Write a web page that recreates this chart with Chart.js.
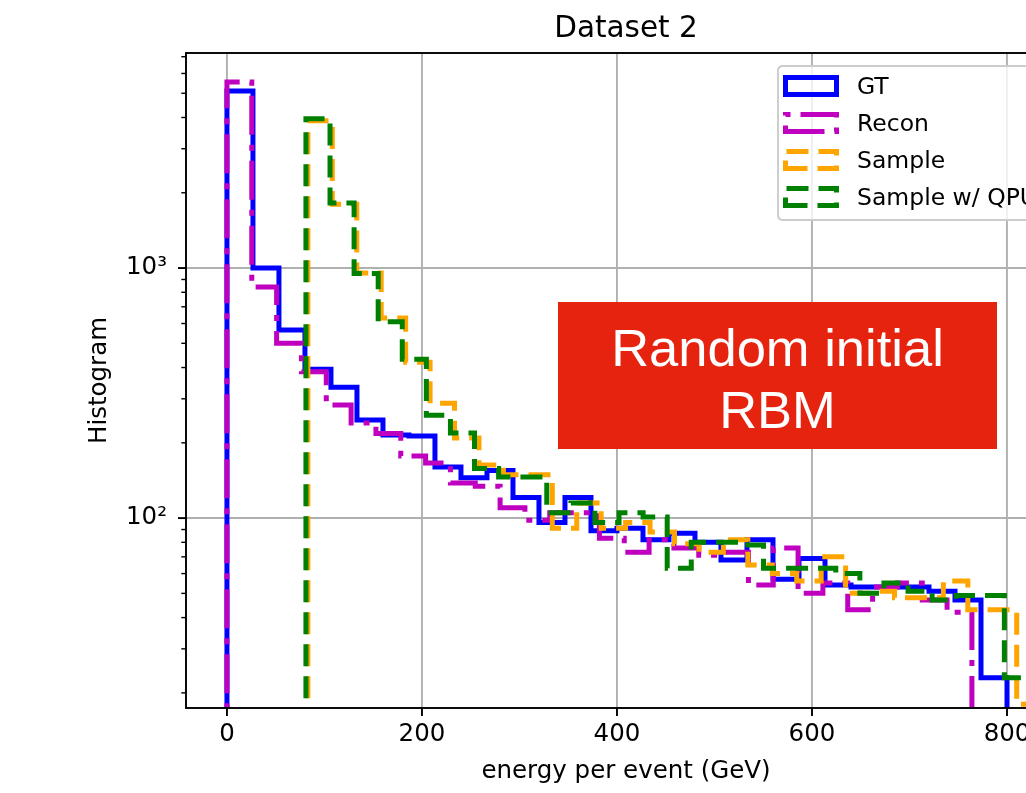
<!DOCTYPE html>
<html><head><meta charset="utf-8">
<script src="https://cdn.jsdelivr.net/npm/chart.js@4.4.1/dist/chart.umd.min.js"></script>
<style>
html,body{margin:0;padding:0;overflow:hidden;background:#fff;width:1026px;height:793px;}
#wrap{position:absolute;left:0;top:0;width:1100px;height:793px;}
#c{position:absolute;left:0;top:0;}
#note{position:absolute;left:558px;top:302px;width:439px;height:147px;background:#e6230f;color:#fff;
font-family:"Liberation Sans",Arial,Helvetica,sans-serif;font-size:52.5px;line-height:62px;text-align:center;box-sizing:border-box;padding-top:15px;}
</style></head><body>
<div id="wrap"><canvas id="c" width="1100" height="793"></canvas>
<div id="note">Random initial<br>RBM</div></div>
<script>
// ---- data (30 bins per histogram) ----
const seriesLabels = ['GT', 'Recon', 'Sample', 'Sample w/ QPU'];
const gtRange = [0, 800];
const gtCounts = [5100, 1000, 565, 394, 334, 247, 215, 213, 160, 145, 155, 121, 96, 121, 89, 91, 82, 87, 80, 68, 82, 57, 69, 54, 53, 53, 53, 51, 47, 23];
const reconRange = [0, 764];
const reconCounts = [5550, 840, 500, 385, 283, 240, 218, 177, 166, 138, 134, 110, 98, 105, 105, 83, 73, 82, 76, 71, 73, 54, 76, 50, 55, 43, 53, 55, 47, 42];
const sampleRange = [83, 835];
const sampleCounts = [3880, 1800, 955, 631, 420, 288, 209, 163, 149, 149, 91, 115, 91, 96, 88, 79, 73, 82, 65, 60, 56, 70, 50, 51, 48, 48, 56, 43, 43, 18];
const qpuRange = [81, 822];
const qpuCounts = [3950, 1820, 950, 610, 432, 258, 219, 158, 146, 146, 105, 115, 96, 105, 101, 63, 80, 80, 78, 63, 63, 63, 60, 50, 55, 51, 47, 49, 49, 23];
const xTickVals = [0, 200, 400, 600, 800];
const yTickVals = [20,30,40,50,60,70,80,90,100,200,300,400,500,600,700,800,900,1000,2000,3000,4000,5000,6000,7000];
const yMajor = {100: '10²', 1000: '10³'};

const FLOOR = 1;
function stepOutline(range, counts) {
  const lo = range[0], hi = range[1], w = (hi - lo) / counts.length;
  const pts = [{x: lo, y: FLOOR}];
  counts.forEach((c, i) => { pts.push({x: lo + i * w, y: c}); pts.push({x: lo + (i + 1) * w, y: c}); });
  pts.push({x: hi, y: FLOOR});
  return pts;
}

const styles = [
  {color: '#0000ff', dash: []},
  {color: '#bf00bf', dash: [39, 10, 6, 10]},
  {color: '#ffa500', dash: [22, 10]},
  {color: '#008000', dash: [22, 10]}
];
const ranges = [gtRange, reconRange, sampleRange, qpuRange];
const counts = [gtCounts, reconCounts, sampleCounts, qpuCounts];

const FONT = "'DejaVu Sans', sans-serif";
const FS = 24.5;
Chart.defaults.font.family = FONT;
Chart.defaults.color = '#000';

const datasets = seriesLabels.map((lab, i) => ({
  label: lab,
  data: stepOutline(ranges[i], counts[i]),
  borderColor: styles[i].color,
  borderDash: styles[i].dash,
  borderWidth: 5,
  pointRadius: 0,
  tension: 0,
  fill: false,
  clip: 0,
  order: 4 - i
}));

const framePlugin = {
  id: 'frame',
  afterDatasetsDraw(chart) {
    const ctx = chart.ctx, a = chart.chartArea;
    const xs = chart.scales.x, ys = chart.scales.y;
    ctx.save();
    ctx.strokeStyle = '#000';
    ctx.setLineDash([]);
    ctx.lineWidth = 1.9;
    xTickVals.forEach(v => {
      const px = xs.getPixelForValue(v);
      ctx.beginPath(); ctx.moveTo(px, a.bottom); ctx.lineTo(px, a.bottom + 8); ctx.stroke();
    });
    yTickVals.forEach(v => {
      const py = ys.getPixelForValue(v);
      const major = yMajor[v] !== undefined;
      ctx.lineWidth = major ? 1.9 : 1.4;
      ctx.beginPath(); ctx.moveTo(a.left, py); ctx.lineTo(a.left - (major ? 8 : 4.7), py); ctx.stroke();
    });
    ctx.lineWidth = 1.9;
    ctx.strokeRect(a.left, a.top, a.right - a.left, a.bottom - a.top);
    // legend (matplotlib style, upper right)
    const bx = 778, by = 66, bw = 276, bh = 154, r = 5;
    ctx.beginPath();
    ctx.moveTo(bx + r, by); ctx.lineTo(bx + bw - r, by); ctx.quadraticCurveTo(bx + bw, by, bx + bw, by + r);
    ctx.lineTo(bx + bw, by + bh - r); ctx.quadraticCurveTo(bx + bw, by + bh, bx + bw - r, by + bh);
    ctx.lineTo(bx + r, by + bh); ctx.quadraticCurveTo(bx, by + bh, bx, by + bh - r);
    ctx.lineTo(bx, by + r); ctx.quadraticCurveTo(bx, by, bx + r, by);
    ctx.closePath();
    ctx.fillStyle = 'rgba(255,255,255,0.8)'; ctx.fill();
    ctx.strokeStyle = '#cccccc'; ctx.lineWidth = 1.9; ctx.stroke();
    ctx.font = '23.5px ' + FONT;
    ctx.textBaseline = 'alphabetic';
    ctx.textAlign = 'left';
    seriesLabels.forEach((lab, i) => {
      const cy = 86 + i * 37;
      ctx.strokeStyle = styles[i].color;
      ctx.lineWidth = 5;
      ctx.setLineDash(styles[i].dash);
      ctx.beginPath();
      ctx.moveTo(785.5, cy + 8.5); ctx.lineTo(836.5, cy + 8.5); ctx.lineTo(836.5, cy - 8.5);
      ctx.lineTo(785.5, cy - 8.5); ctx.closePath(); ctx.stroke();
      ctx.setLineDash([]);
      ctx.fillStyle = '#000';
      ctx.fillText(lab, 857, cy + 7.6);
    });
    ctx.restore();
  }
};

new Chart(document.getElementById('c'), {
  type: 'line',
  data: {datasets},
  plugins: [framePlugin],
  options: {
    responsive: false,
    animation: false,
    devicePixelRatio: 1,
    layout: {padding: {left: 0, right: 34, top: 0, bottom: 0}},
    plugins: {
      legend: {display: false},
      tooltip: {enabled: false},
      title: {display: true, text: 'Dataset 2', fullSize: false, color: '#000',
        font: {size: 29.5, weight: 'normal', family: FONT}, padding: {top: 12.1, bottom: 5.5}}
    },
    scales: {
      x: {
        type: 'linear', min: -42, max: 860.5,
        afterBuildTicks: s => { s.ticks = xTickVals.map(v => ({value: v})); },
        afterFit: s => { s.height = 85; },
        ticks: {autoSkip: false, maxRotation: 0, padding: 11.9, color: '#000', font: {size: FS}, callback: v => String(v)},
        grid: {color: '#b0b0b0', lineWidth: 1.9, drawTicks: false},
        border: {display: false},
        title: {display: true, text: 'energy per event (GeV)', color: '#000', font: {size: FS}, padding: {top: 0, bottom: 6.3}}
      },
      y: {
        type: 'logarithmic', min: 17.4, max: 7244,
        afterBuildTicks: s => { s.ticks = yTickVals.map(v => ({value: v})); },
        afterFit: s => { s.width = 186; },
        ticks: {autoSkip: false, padding: 19, color: '#000', font: {size: FS},
          callback: v => (yMajor[v] !== undefined ? yMajor[v] : '')},
        grid: {color: c => (c.tick && yMajor[c.tick.value] !== undefined) ? '#b0b0b0' : 'rgba(0,0,0,0)', lineWidth: 1.9, drawTicks: false},
        border: {display: false},
        title: {display: true, text: 'Histogram', color: '#000', font: {size: FS}, padding: {top: 85.3, bottom: 0}}
      }
    }
  }
});
</script>
</body></html>
